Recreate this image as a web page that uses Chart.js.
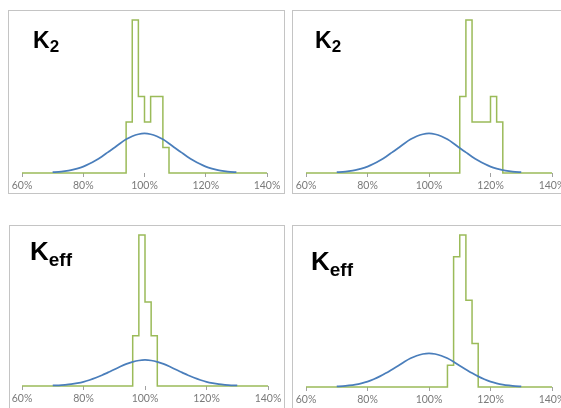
<!DOCTYPE html>
<html>
<head>
<meta charset="utf-8">
<script src="https://cdn.jsdelivr.net/npm/chart.js@4/dist/chart.umd.min.js"></script>
<style>
  html, body { margin: 0; padding: 0; background: #fff; overflow: hidden; }
  body { width: 561px; height: 408px; position: relative; }
  .box { position: absolute; border: 1px solid #c4c4c4; box-sizing: border-box; }
  canvas { position: absolute; }
  .lbl { position: absolute; font-family: "Liberation Sans", Arial, sans-serif; font-weight: bold; color: #000; line-height: 1; white-space: nowrap; }
  .lbl .sub { position: relative; }
</style>
</head>
<body>
<div class="box" style="left:8px;top:10px;width:277px;height:184px"></div>
<div class="box" style="left:292px;top:10px;width:280px;height:184px"></div>
<div class="box" style="left:9px;top:225px;width:276px;height:200px"></div>
<div class="box" style="left:292px;top:225px;width:280px;height:200px"></div>

<canvas id="c1" width="276" height="183" style="left:8px;top:10px"></canvas>
<canvas id="c2" width="276" height="183" style="left:292px;top:10px"></canvas>
<canvas id="c3" width="276" height="190" style="left:9px;top:225px"></canvas>
<canvas id="c4" width="276" height="190" style="left:292px;top:225px"></canvas>

<div class="lbl" style="left:33px;top:29px;font-size:23px">K<span class="sub" style="font-size:17px;top:4px">2</span></div>
<div class="lbl" style="left:315px;top:29px;font-size:23px">K<span class="sub" style="font-size:17px;top:4px">2</span></div>
<div class="lbl" style="left:30px;top:238px;font-size:26px">K<span class="sub" style="font-size:19px;top:6px">eff</span></div>
<div class="lbl" style="left:311px;top:248px;font-size:26px">K<span class="sub" style="font-size:19px;top:6px">eff</span></div>

<script>
// x axis ticks (percent of nominal)
const xTicks = [60, 80, 100, 120, 140];

// reference normal curve
const gaussX = [70, 72, 74, 76, 78, 80, 82, 84, 86, 88, 90, 92, 94, 96, 98, 100,
                102, 104, 106, 108, 110, 112, 114, 116, 118, 120, 122, 124, 126, 128, 130];
const gaussY = [0.03, 0.04, 0.07, 0.11, 0.17, 0.25, 0.36, 0.49, 0.64, 0.81, 0.98, 1.16, 1.32, 1.44, 1.52, 1.55,
                1.52, 1.44, 1.32, 1.16, 0.98, 0.81, 0.64, 0.49, 0.36, 0.25, 0.17, 0.11, 0.07, 0.04, 0.03];

// histograms: bin edges and counts
const edges1 = [94, 96, 98, 100, 102, 104, 106, 108];
const counts1 = [2, 6, 3, 2, 3, 3, 1];
const edges2 = [110, 112, 114, 116, 118, 120, 122, 124];
const counts2 = [3, 6, 2, 2, 2, 3, 2];
const edges3 = [96, 98, 100, 102, 104];
const counts3 = [3, 9, 5, 3];
const edges4 = [106, 108, 110, 112, 114, 116];
const counts4 = [1, 6, 7, 4, 2];

const GREEN = '#9BBB59';
const BLUE = '#4A7EBB';

function histPoints(edges, counts) {
    const pts = [{ x: xTicks[0], y: 0 }];
    edges.forEach((e, i) => {
        pts.push({ x: e, y: i < counts.length ? counts[i] : 0 });
    });
    pts.push({ x: xTicks[xTicks.length - 1], y: 0 });
    return pts;
}

function makePanel(id, edges, counts, pad, axisH) {
    const ctx = document.getElementById(id).getContext('2d');
    new Chart(ctx, {
        type: 'line',
        data: {
            datasets: [{
                label: 'normal',
                data: gaussX.map((x, i) => ({ x: x, y: gaussY[i] })),
                borderColor: BLUE,
                borderWidth: 1.75,
                pointRadius: 0,
                cubicInterpolationMode: 'monotone',
                fill: false,
                clip: false
            }, {
                label: 'hist',
                data: histPoints(edges, counts),
                borderColor: GREEN,
                borderWidth: 1.5,
                pointRadius: 0,
                stepped: 'before',
                fill: false,
                clip: false
            }]
        },
        options: {
            responsive: false,
            animation: false,
            layout: { padding: pad },
            plugins: {
                legend: { display: false },
                tooltip: { enabled: false }
            },
            scales: {
                x: {
                    type: 'linear',
                    min: xTicks[0],
                    max: xTicks[xTicks.length - 1],
                    afterBuildTicks: (scale) => {
                        scale.ticks = xTicks.map(v => ({ value: v }));
                    },
                    afterFit: (scale) => { scale.height = axisH; },
                    grid: {
                        drawOnChartArea: false,
                        drawTicks: true,
                        tickLength: 4,
                        color: '#a0a0a0'
                    },
                    border: { display: false },
                    ticks: {
                        callback: v => v + '%',
                        color: '#7a7a7a',
                        font: { family: 'Lato', size: 10.5 },
                        padding: 2,
                        maxRotation: 0,
                        autoSkip: false
                    }
                },
                y: {
                    display: false,
                    min: 0,
                    max: Math.max(...counts)
                }
            }
        }
    });
}

makePanel('c1', edges1, counts1, { left: 14, right: 17, top: 10, bottom: 0 }, 20);
makePanel('c2', edges2, counts2, { left: 14, right: 16, top: 10, bottom: 0 }, 20);
makePanel('c3', edges3, counts3, { left: 13, right: 17, top: 10, bottom: 9 }, 20);
makePanel('c4', edges4, counts4, { left: 14, right: 16, top: 10, bottom: 8 }, 20);
</script>
</body>
</html>
